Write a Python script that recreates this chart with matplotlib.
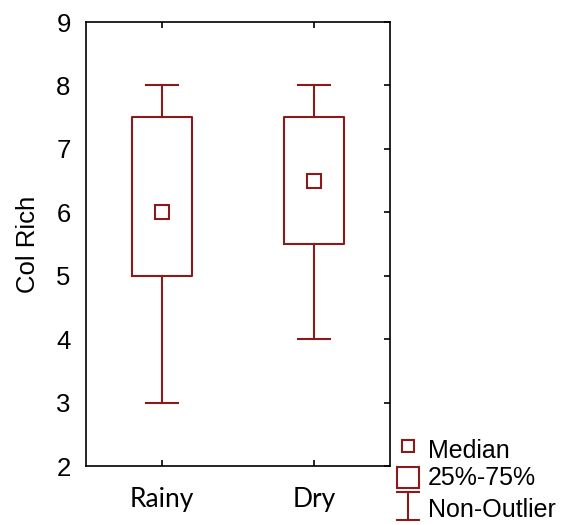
import matplotlib
matplotlib.use('Agg')
import matplotlib.pyplot as plt
from matplotlib.patches import Rectangle

# Values
categories = ['Rainy', 'Dry']
medians = [6.0, 6.5]
q1 = [5.0, 5.5]
q3 = [7.5, 7.5]
whisk_lo = [3.0, 4.0]
whisk_hi = [8.0, 8.0]
legend_labels = ['Median', '25%-75%', 'Non-Outlier']

red = '#8b1a1a'
W, H = 576, 525

fig = plt.figure(figsize=(W / 100, H / 100), dpi=100)
ax = fig.add_axes([86 / W, 1 - 466 / H, (390 - 86) / W, (466 - 22) / H])

stats = []
for i, c in enumerate(categories):
    stats.append({'label': c, 'med': medians[i], 'q1': q1[i], 'q3': q3[i],
                  'whislo': whisk_lo[i], 'whishi': whisk_hi[i], 'fliers': []})
pos = list(range(1, len(categories) + 1))
line = dict(color=red, linewidth=1.5)
ax.bxp(stats, positions=pos, widths=0.4, showfliers=False,
       boxprops=line, whiskerprops=line, capprops=line,
       medianprops=dict(linewidth=0), capwidths=0.21)
ax.plot(pos, medians, 's', ms=10, mfc='white', mec=red, mew=1.5, ls='none', zorder=3)

ax.set_xlim(0.5, 2.5)
ax.set_ylim(2, 9)
ax.set_yticks(range(2, 10))
for s in ax.spines.values():
    s.set_linewidth(1.2)
ax.tick_params(axis='y', left=False, right=True, direction='in', length=4, width=1.2,
               labelsize=18.5, pad=11)
ax.tick_params(axis='x', top=True, bottom=True, direction='in', length=4, width=1.2, pad=15)
for t in ax.get_yticklabels():
    t.set_fontfamily('Liberation Sans')
for t in ax.get_xticklabels():
    t.set_fontfamily('Lato')
    t.set_fontsize(19)
ax.set_ylabel('Col Rich', fontsize=18.5, family='Liberation Sans', labelpad=12)

# legend drawn in pixel coordinates at the lower right
lg = fig.add_axes([395 / W, 0, (W - 395) / W, 90 / H])
lg.set_xlim(0, W - 395)
lg.set_ylim(90, 0)
lg.axis('off')
lg.plot([13], [11], 's', ms=8.5, mfc='white', mec=red, mew=1.5)
lg.add_patch(Rectangle((2, 32), 22, 21, fill=False, ec=red, lw=1.5))
lg.plot([13, 13], [57, 85], color=red, lw=1.5)
lg.plot([2, 24], [57, 57], color=red, lw=1.5)
lg.plot([2, 24], [85, 85], color=red, lw=1.5)
for y, lab in zip([23, 50, 82], legend_labels):
    lg.text(33, y, lab, fontsize=18, family='Liberation Sans', va='baseline', ha='left')

fig.savefig('out.png', dpi=100)
